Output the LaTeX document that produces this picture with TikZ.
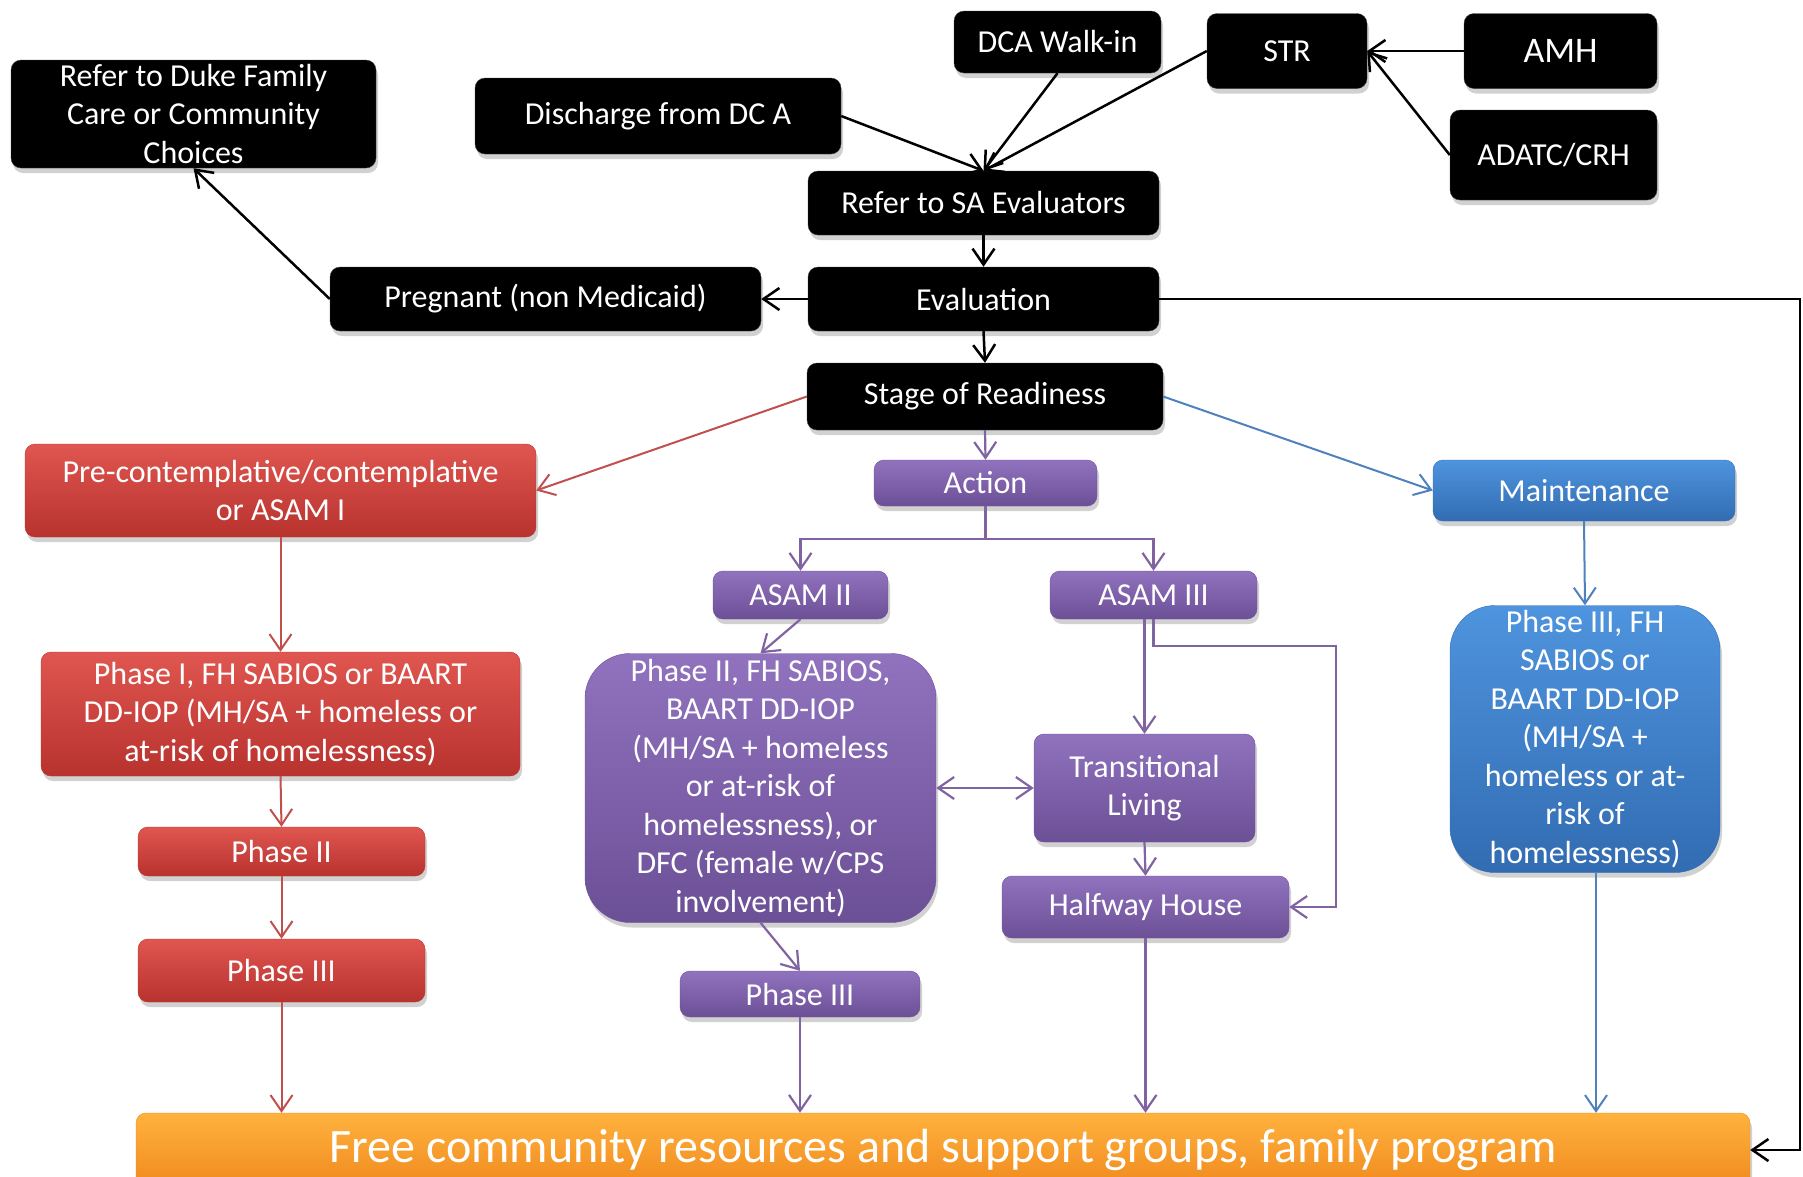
\documentclass[tikz,border=0pt]{standalone}
\usepackage{fontspec}
\setmainfont{Carlito}
\usetikzlibrary{arrows.meta}
\usetikzlibrary{shadows}

\definecolor{redtop}{RGB}{224,86,80}
\definecolor{redbot}{RGB}{184,50,46}
\definecolor{purtop}{RGB}{144,114,190}
\definecolor{purbot}{RGB}{108,80,150}
\definecolor{bluetop}{RGB}{78,148,222}
\definecolor{bluebot}{RGB}{50,108,178}
\definecolor{ortop}{RGB}{255,178,62}
\definecolor{orbot}{RGB}{240,138,30}
\definecolor{redline}{RGB}{192,80,77}
\definecolor{purline}{RGB}{128,100,162}
\definecolor{blueline}{RGB}{79,129,189}

\tikzset{
  box/.style={rounded corners=10pt, text=white, align=center, inner sep=0pt,
    font=\fontsize{32}{38.5}\selectfont,
    drop shadow={shadow xshift=2pt, shadow yshift=-5pt, opacity=.3, fill=black!60}},
  blackbox/.style={box, fill=black, draw=black!75},
  redbox/.style={box, top color=redtop, bottom color=redbot, draw=redbot},
  purplebox/.style={box, top color=purtop, bottom color=purbot, draw=purbot},
  bluebox/.style={box, top color=bluetop, bottom color=bluebot, draw=bluebot},
  orangebox/.style={box, top color=ortop, bottom color=orbot, draw=orbot},
  arr/.style={line width=2.5pt, -{Straight Barb[length=16pt,width=22pt]}},
  rarr/.style={arr, line width=2pt, draw=redline},
  parr/.style={arr, line width=2.2pt, draw=purline},
  barr/.style={arr, line width=2pt, draw=blueline}
}

\begin{document}
\begin{tikzpicture}[x=1pt, y=-1pt]
  \useasboundingbox (0,0) rectangle (1803,1176);

  % intake
  \node[blackbox, minimum width=365pt, minimum height=108pt] (duke) at (193.5,114) {Refer to Duke Family\\Care or Community\\Choices};
  \node[blackbox, minimum width=366pt, minimum height=76pt] (discharge) at (658,116) {Discharge from DC A};
  \node[blackbox, minimum width=207pt, minimum height=62pt] (walkin) at (1057.5,42) {DCA Walk-in};
  \node[blackbox, minimum width=160pt, minimum height=75pt] (str) at (1287,51) {STR};
  \node[blackbox, minimum width=193pt, minimum height=75pt, font=\fontsize{36}{40}\selectfont] (amh) at (1560.5,51) {AMH};
  \node[blackbox, minimum width=207pt, minimum height=90pt] (adatc) at (1553.5,155) {ADATC/CRH};
  \node[blackbox, minimum width=351pt, minimum height=64pt] (refersa) at (983.5,203) {Refer to SA Evaluators};
  \node[blackbox, minimum width=351pt, minimum height=64pt] (evaluation) at (983.5,299) {Evaluation};
  \node[blackbox, minimum width=431pt, minimum height=64pt] (pregnant) at (545.5,299) {Pregnant (non Medicaid)};
  \node[blackbox, minimum width=356pt, minimum height=67pt] (stage) at (985,396.5) {Stage of Readiness};

  % stages
  \node[redbox, minimum width=511pt, minimum height=93pt] (precon) at (280.5,490.5) {Pre-contemplative/contemplative\\or ASAM I};
  \node[purplebox, minimum width=223pt, minimum height=46pt] (action) at (985.5,483) {Action};
  \node[bluebox, minimum width=302pt, minimum height=61pt] (maint) at (1584,490.5) {Maintenance};

  % red column
  \node[redbox, minimum width=479pt, minimum height=124pt] (phaseIred) at (280.5,714) {Phase I, FH SABIOS or BAART\\DD-IOP (MH/SA + homeless or\\at-risk of homelessness)};
  \node[redbox, minimum width=287pt, minimum height=49pt] (phaseIIred) at (281.5,851.5) {Phase II};
  \node[redbox, minimum width=287pt, minimum height=63pt] (phaseIIIred) at (281.5,970.5) {Phase III};

  % purple column
  \node[purplebox, minimum width=175pt, minimum height=48pt] (asamII) at (800.5,595) {ASAM II};
  \node[purplebox, minimum width=207pt, minimum height=48pt] (asamIII) at (1153.5,595) {ASAM III};
  \node[purplebox, rounded corners=45pt, minimum width=351pt, minimum height=269pt] (phaseIIpur) at (760.5,788) {Phase II, FH SABIOS,\\BAART DD-IOP\\(MH/SA + homeless\\or at-risk of\\homelessness), or\\DFC (female w/CPS\\involvement)};
  \node[purplebox, minimum width=221pt, minimum height=108pt] (living) at (1144.5,788) {Transitional\\Living};
  \node[purplebox, minimum width=287pt, minimum height=62pt] (halfway) at (1145.5,907) {Halfway House};
  \node[purplebox, minimum width=240pt, minimum height=46pt] (phaseIIIpur) at (800,994) {Phase III};

  % blue column
  \node[bluebox, rounded corners=45pt, minimum width=270pt, minimum height=267pt] (phaseIIIblue) at (1585,739) {Phase III, FH\\SABIOS or\\BAART DD-IOP\\(MH/SA +\\homeless or at-\\risk of\\homelessness)};

  \node[orangebox, minimum width=1614pt, minimum height=74pt, font=\fontsize{48}{52}\selectfont] (free) at (943,1150) {Free community resources and support groups, family program};

  % black connectors
  \draw[arr] (walkin.south) -- (refersa.north);
  \draw[arr] (discharge.east) -- (refersa.north);
  \draw[arr] (str.west) -- (refersa.north);
  \draw[arr] (amh.west) -- (str.east);
  \draw[arr] (adatc.west) -- (str.east);
  \draw[arr] (refersa.south) -- (evaluation.north);
  \draw[arr] (evaluation.west) -- (pregnant.east);
  \draw[arr] (pregnant.west) -- (duke.south);
  \draw[arr] (evaluation.south) -- (stage.north);
  \coordinate (edge) at (1800,299);
  \draw[arr] (evaluation.east) -- (edge) |- (free.east);

  % red connectors
  \draw[rarr] (stage.west) -- (precon.east);
  \draw[rarr] (precon.south) -- (phaseIred.north);
  \draw[rarr] (phaseIred.south) -- (phaseIIred.north);
  \draw[rarr] (phaseIIred.south) -- (phaseIIIred.north);
  \draw[rarr] (phaseIIIred.south) -- (phaseIIIred.south |- free.north);

  % purple connectors
  \draw[parr] (stage.south) -- (action.north);
  \coordinate (split) at (985.5,539);
  \draw[parr] (action.south) -- (split) -| (asamII.north);
  \draw[parr] (split) -| (asamIII.north);
  \draw[parr] (asamII.south) -- (phaseIIpur.north);
  \draw[parr] (asamIII.south -| living.north) -- (living.north);
  \coordinate (bypass) at (1336,646);
  \draw[parr] (asamIII.south) |- (bypass) |- (halfway.east);
  \draw[parr, {Straight Barb[length=16pt,width=22pt]}-{Straight Barb[length=16pt,width=22pt]}] (phaseIIpur.east) -- (living.west);
  \draw[parr] (living.south) -- (halfway.north);
  \draw[parr] (phaseIIpur.south) -- (phaseIIIpur.north);
  \draw[parr] (phaseIIIpur.south) -- (phaseIIIpur.south |- free.north);
  \draw[parr] (halfway.south) -- (halfway.south |- free.north);

  % blue connectors
  \draw[barr] (stage.east) -- (maint.west);
  \draw[barr] (maint.south) -- (phaseIIIblue.north);
  \coordinate (bluedrop) at (1596,872);
  \draw[barr] (bluedrop) -- (bluedrop |- free.north);
\end{tikzpicture}
\end{document}
